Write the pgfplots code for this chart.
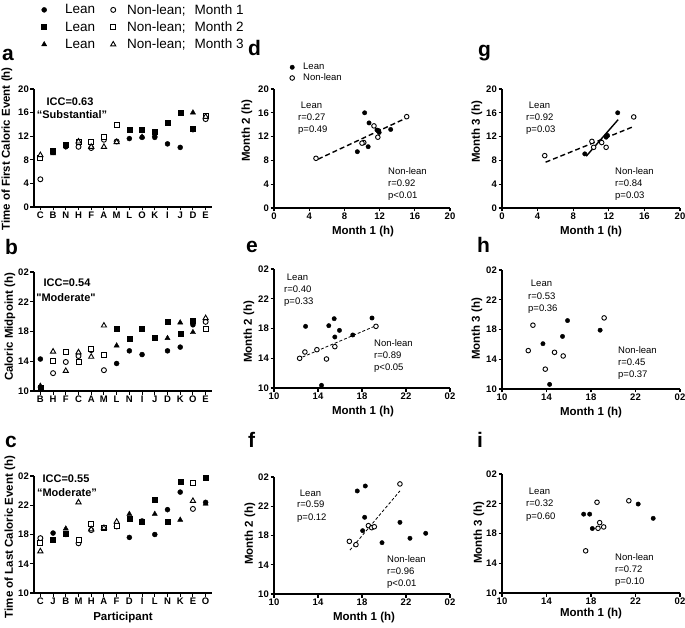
\documentclass[border=0pt]{standalone}
\usepackage{pgfplots}
\pgfplotsset{compat=1.18}
\usepackage{fontspec}
\setmainfont{Liberation Sans}
\newfontfamily\plainq{Liberation Sans}[Ligatures=TeXOff]
\newcommand{\tickf}{\bfseries\fontsize{9.5}{10}\selectfont}
\newcommand{\labf}{\bfseries\fontsize{11.5}{13}\selectfont}
\newcommand{\annf}{\fontsize{9.5}{11}\selectfont}
\newcommand{\letf}{\bfseries\fontsize{21}{24}\selectfont}
\newcommand{\iccf}{\bfseries\fontsize{11}{13}\selectfont}
\pgfplotsset{
  panel/.style={scale only axis, axis lines*=left, axis line style={line width=1.3pt},
    enlargelimits=false, clip=false, tick align=outside, major tick length=3.5pt,
    tick style={line width=1.1pt, black},
    ticklabel style={font=\tickf, inner sep=1.5pt},
    anchor=south west,
    legend image code/.code={\path[draw=none,fill=none] (0pt,-3pt) rectangle (17pt,3pt); \draw[##1] plot coordinates {(8.5pt,0pt)};}},
  cat/.style={panel, width=178pt, xmin=-0.5, xmax=13.5, xtick={0,...,13}},
  laty/.style={ymin=10, ymax=26, ytick={10,14,18,22,26}, yticklabels={10,14,18,22,02}},
  latx/.style={xmin=10, xmax=26, xtick={10,14,18,22,26}, xticklabels={10,14,18,22,02}},
  eary/.style={ymin=0, ymax=20, ytick={0,4,8,12,16,20}, yticklabels={0,4,8,12,16,20}},
  earx/.style={xmin=0, xmax=20, xtick={0,4,8,12,16,20}, xticklabels={0,4,8,12,16,20}},
  L1/.style={only marks, mark=*, mark size=2.5pt, black},
  N1/.style={only marks, mark=*, mark size=2.5pt, mark options={draw=black, fill=white, line width=0.9pt}},
  L2/.style={only marks, mark=square*, mark size=2.5pt, black},
  N2/.style={only marks, mark=square*, mark size=2.5pt, mark options={draw=black, fill=white, line width=0.9pt}},
  L3/.style={only marks, mark=triangle*, mark size=3pt, black},
  N3/.style={only marks, mark=triangle*, mark size=3pt, mark options={draw=black, fill=white, line width=0.9pt}},
  S1/.style={only marks, mark=*, mark size=2.2pt, black},
  S0/.style={only marks, mark=*, mark size=2.3pt, mark options={draw=black, fill=white, line width=0.9pt}},
  fitA/.style={no markers, black, line width=1.4pt, dash pattern=on 5pt off 3pt, forget plot},
  fitB/.style={no markers, black, line width=0.8pt, dash pattern=on 3pt off 2pt, forget plot},
  fitS/.style={no markers, black, line width=1.4pt, forget plot},
}
\begin{document}
\begin{tikzpicture}[x=1pt,y=1pt]
\path[use as bounding box] (0,0) rectangle (685,627);

% ---------- panel a ----------
\begin{axis}[cat, eary, at={(34pt,420pt)}, height=118pt,
  xticklabels={C,B,N,H,F,A,M,L,O,K,I,J,D,E},
  legend columns=2, legend cell align=left,
  legend style={draw=none, fill=none, at={(0.0084,1.72)}, anchor=north west,
    font=\fontsize{13.5}{16}\selectfont, inner sep=0pt, row sep=6pt,
    nodes={inner sep=0pt}}]
\addplot[L1] coordinates {(1,9.26)(2,10.2)(7,11.6)(8,11.8)(9,11.8)(10,10.7)(11,10.1)(12,13.1)};
\addlegendentry{\hspace{12.5pt}Lean\hspace{9.5pt}\mbox{}}
\addplot[N1] coordinates {(0,4.7)(3,10.2)(4,10.0)(5,11.4)(6,11.1)(13,14.9)};
\addlegendentry{\mbox{}\hspace{5.5pt}Non-lean;\hspace{9pt}Month 1}
\addplot[L2] coordinates {(1,9.5)(2,10.5)(7,13.1)(8,13.1)(9,12.8)(10,14.3)(11,16.0)(12,13.2)};
\addlegendentry{\hspace{12.5pt}Lean\hspace{9.5pt}\mbox{}}
\addplot[N2] coordinates {(0,8.3)(3,11.0)(4,11.0)(5,11.8)(6,13.9)(13,15.5)};
\addlegendentry{\mbox{}\hspace{5.5pt}Non-lean;\hspace{9pt}Month 2}
\addplot[L3] coordinates {(1,9.1)(8,11.9)(9,12.2)(12,16.0)};
\addlegendentry{\hspace{12.5pt}Lean\hspace{9.5pt}\mbox{}}
\addplot[N3] coordinates {(0,8.8)(3,11.1)(4,10.2)(5,10.2)(6,11.0)(13,15.3)};
\addlegendentry{\mbox{}\hspace{5.5pt}Non-lean;\hspace{9pt}Month 3}
\end{axis}

% ---------- panel b ----------
\begin{axis}[cat, laty, at={(34pt,236pt)}, height=119pt,
  xticklabels={B,H,F,C,A,M,L,N,I,J,D,K,O,E}]
\addplot[L1] coordinates {(0,14.3)(6,13.7)(7,15.4)(8,14.9)(9,17.1)(10,15.4)(11,15.9)(12,18.9)};
\addplot[N1] coordinates {(1,12.4)(2,13.9)(3,14.7)(4,15.5)(5,12.8)(13,19.3)};
\addplot[L2] coordinates {(0,10.4)(6,18.4)(7,17.0)(8,18.4)(9,17.1)(10,19.3)(11,17.7)(12,19.5)};
\addplot[N2] coordinates {(1,14.0)(2,15.2)(3,13.95)(4,15.7)(5,14.9)(13,18.4)};
\addplot[L3] coordinates {(0,10.7)(6,16.1)(10,17.1)(11,19.2)(12,17.9)};
\addplot[N3] coordinates {(1,15.3)(2,12.7)(3,15.2)(4,14.6)(5,18.8)(13,19.8)};
\end{axis}

% ---------- panel c ----------
\begin{axis}[cat, laty, at={(34pt,34pt)}, height=117pt,
  xticklabels={C,J,B,M,H,A,F,D,I,L,N,K,E,O}]
\addplot[L1] coordinates {(1,18.2)(2,18.0)(7,17.6)(8,19.85)(9,18.0)(10,21.4)(11,23.8)(13,22.4)};
\addplot[N1] coordinates {(0,17.5)(3,16.8)(4,18.6)(5,18.9)(6,19.1)(12,21.5)};
\addplot[L2] coordinates {(1,17.3)(2,18.1)(7,20.1)(8,19.7)(9,22.8)(10,19.7)(11,25.2)(13,25.7)};
\addplot[N2] coordinates {(0,16.8)(3,17.2)(4,19.4)(5,18.9)(6,19.2)(12,25.1)};
\addplot[L3] coordinates {(2,18.8)(7,20.8)(9,20.8)(11,20.0)(13,22.2)};
\addplot[N3] coordinates {(0,15.7)(3,22.4)(4,18.7)(5,18.9)(6,19.75)(12,22.6)};
\end{axis}

% ---------- panel d ----------
\begin{axis}[panel, earx, eary, at={(274pt,419pt)}, width=176pt, height=119pt,
  legend cell align=left,
  legend style={draw=none, fill=none, at={(0.054,1.218)}, anchor=north west,
    font=\annf, inner sep=0pt, row sep=2.5pt, nodes={inner sep=0pt}}]
\addplot[fitA] coordinates {(5.0,8.2)(15.0,15.1)};
\addplot[S1] coordinates {(10.3,16.0)(10.8,14.3)(11.9,13.0)(11.95,12.7)(13.26,13.2)(9.47,9.46)(10.7,10.3)(11.7,13.1)};
\addlegendentry{\hspace{2.5pt}Lean}
\addplot[S0] coordinates {(4.77,8.35)(10.2,11.0)(10.0,10.9)(11.36,13.8)(11.8,11.9)(15.08,15.35)};
\addlegendentry{\hspace{2.5pt}Non-lean}
\end{axis}

% ---------- panel g ----------
\begin{axis}[panel, earx, eary, at={(502pt,419pt)}, width=178pt, height=119pt]
\addplot[fitA] coordinates {(4.9,7.7)(14.8,13.7)};
\addplot[fitS] coordinates {(9.46,8.7)(13.05,14.85)};
\addplot[S1] coordinates {(9.3,9.1)(11.7,11.9)(11.85,12.2)(13.0,16.0)};
\addplot[S0] coordinates {(4.8,8.8)(10.1,11.2)(10.3,10.2)(11.2,11.0)(11.7,10.2)(14.8,15.3)};
\end{axis}

% ---------- panel e ----------
\begin{axis}[panel, latx, laty, at={(274pt,239pt)}, width=176pt, height=119pt]
\addplot[fitB] coordinates {(12.18,13.9)(19.27,18.38)};
\addplot[S1] coordinates {(12.87,18.29)(14.98,18.38)(15.47,19.32)(15.95,17.75)(15.53,16.86)(17.16,17.13)(18.91,19.41)(14.32,10.36)};
\addplot[S0] coordinates {(12.33,13.99)(12.81,14.84)(13.9,15.15)(14.77,13.9)(15.53,15.56)(19.27,18.29)};
\end{axis}

% ---------- panel h ----------
\begin{axis}[panel, latx, laty, at={(502pt,238pt)}, width=178pt, height=119pt]
\addplot[S1] coordinates {(13.68,16.09)(15.44,17.07)(15.89,19.2)(18.82,17.91)(14.28,10.62)};
\addplot[S0] coordinates {(12.78,18.58)(12.36,15.16)(13.89,12.67)(14.72,14.93)(15.5,14.44)(19.18,19.56)};
\end{axis}

% ---------- panel f ----------
\begin{axis}[panel, latx, laty, at={(274pt,33pt)}, width=176pt, height=117pt]
\addplot[fitB] coordinates {(16.9,16.0)(21.45,24.1)};
\addplot[S1] coordinates {(17.57,24.09)(18.3,24.77)(18.24,20.49)(18.06,18.66)(21.45,19.8)(19.82,17.02)(22.36,17.62)(23.79,18.3)};
\addplot[S0] coordinates {(21.45,25.05)(16.85,17.2)(17.45,16.75)(18.58,19.35)(18.88,19.07)(19.12,19.2)};
\end{axis}

% ---------- panel i ----------
\begin{axis}[panel, latx, laty, at={(502pt,34pt)}, width=178pt, height=119pt]
\addplot[S1] coordinates {(17.34,20.6)(17.88,20.6)(18.12,18.67)(22.24,21.96)(23.59,20.04)};
\addplot[S0] coordinates {(17.52,15.67)(18.54,22.2)(18.63,18.7)(18.78,19.46)(19.14,18.88)(21.4,22.4)};
\end{axis}

% ---------- panel letters ----------
\begin{scope}[every node/.style={anchor=base west, inner sep=0pt, font=\letf}]
\node at (2,566) {a};
\node at (5,372) {b};
\node at (5,180) {c};
\node at (248,571) {d};
\node at (246,374) {e};
\node at (248,180) {f};
\node at (478,570) {g};
\node at (477,374) {h};
\node at (477,180) {i};
\end{scope}

% ---------- ICC ----------
\begin{scope}[every node/.style={inner sep=0pt, font=\iccf}]
\node at (70,525) {ICC=0.63};
\node at (72,512) {“Substantial”};
\node at (67,344) {ICC=0.54};
\node at (66,329) {\plainq\bfseries "Moderate"};
\node at (66,148) {ICC=0.55};
\node at (67,134) {“Moderate”};
\end{scope}

% ---------- axis labels ----------
\begin{scope}[every node/.style={inner sep=0pt, font=\labf}]
\node[rotate=90] at (7,478) {Time of First Caloric Event (h)};
\node[rotate=90] at (10,300) {Caloric Midpoint (h)};
\node[rotate=90] at (10,90) {Time of Last Caloric Event (h)};
\node[rotate=90] at (247,496) {Month 2 (h)};
\node[rotate=90] at (249,295) {Month 2 (h)};
\node[rotate=90] at (250,93) {Month 2 (h)};
\node[rotate=90] at (477,495) {Month 3 (h)};
\node[rotate=90] at (477,298) {Month 3 (h)};
\node[rotate=90] at (479,94) {Month 3 (h)};
\node at (123,9) {Participant};
\node at (363,395) {Month 1 (h)};
\node at (363,215) {Month 1 (h)};
\node at (364,9) {Month 1 (h)};
\node at (591,395) {Month 1 (h)};
\node at (591,214) {Month 1 (h)};
\node at (591,13) {Month 1 (h)};
\end{scope}

% ---------- annotations ----------
\begin{scope}[every node/.style={inner sep=0pt, font=\annf, anchor=base west}]
% d
\node[anchor=base] at (311.5,518) {Lean};
\node at (298,506) {r=0.27};
\node at (298,494) {p=0.49};
\node at (388,452) {Non-lean};
\node at (388,440) {r=0.92};
\node at (388,428) {p<0.01};
% g
\node[anchor=base] at (539.5,518) {Lean};
\node at (526,506) {r=0.92};
\node at (526,494) {p=0.03};
\node at (615,452) {Non-lean};
\node at (615,440) {r=0.84};
\node at (615,428) {p=0.03};
% e
\node[anchor=base] at (297.5,346) {Lean};
\node at (284,334) {r=0.40};
\node at (284,322) {p=0.33};
\node at (374,280) {Non-lean};
\node at (374,268) {r=0.89};
\node at (374,256) {p<0.05};
% h
\node[anchor=base] at (541.5,340) {Lean};
\node at (528,327) {r=0.53};
\node at (528,315) {p=0.36};
\node at (618,273) {Non-lean};
\node at (618,261) {r=0.45};
\node at (618,249) {p=0.37};
% f
\node[anchor=base] at (310.5,131) {Lean};
\node at (297,120) {r=0.59};
\node at (297,107) {p=0.12};
\node at (387,65) {Non-lean};
\node at (387,53) {r=0.96};
\node at (387,41) {p<0.01};
% i
\node[anchor=base] at (539.5,133) {Lean};
\node at (526,121) {r=0.32};
\node at (526,108) {p=0.60};
\node at (615,67) {Non-lean};
\node at (615,55) {r=0.72};
\node at (615,43) {p=0.10};
\end{scope}
\end{tikzpicture}
\end{document}
